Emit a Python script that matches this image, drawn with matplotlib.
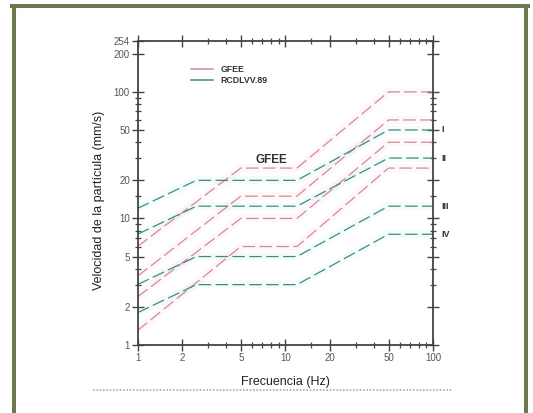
import numpy as np
import matplotlib
matplotlib.use("Agg")
import matplotlib.pyplot as plt
from matplotlib.lines import Line2D
from matplotlib.ticker import NullFormatter
import matplotlib.transforms as mtransforms

plt.rcParams['font.family'] = ['Liberation Sans', 'DejaVu Sans']

# break frequencies (Hz) of each limit curve
freq_gfee = [1, 5, 12, 50, 100]
freq_rcd = [1, 2.5, 12, 50, 100]

# GFEE limits (mm/s)
gfee_1 = [6, 25, 25, 100, 100]
gfee_2 = [3.5, 15, 15, 60, 60]
gfee_3 = [2.4, 10, 10, 40, 40]
gfee_4 = [1.3, 6, 6, 25, 25]

# RCDLVV.89 limits (mm/s), classes I-IV
rcd_1 = [12, 20, 20, 50, 50]
rcd_2 = [7.5, 12.5, 12.5, 30, 30]
rcd_3 = [3, 5, 5, 12.5, 12.5]
rcd_4 = [1.8, 3, 3, 7.5, 7.5]

class_names = ['I', 'II', 'III', 'IV']

x_major = [1, 2, 5, 10, 20, 50, 100]
x_minor = [3, 4, 6, 7, 8, 9, 15, 30, 40, 60, 70, 80, 90]
y_major = [1, 2, 5, 10, 20, 50, 100, 200, 254]
y_minor = [3, 4, 6, 7, 8, 9, 15, 30, 40, 60, 70, 80, 90]

pink = '#d9859f'
teal = '#3f8a86'

fig = plt.figure(figsize=(5.33, 4.13), dpi=100)
ax = fig.add_axes([0.258, 0.1646, 0.5544, 0.737])
ax.set_xscale('log')
ax.set_yscale('log')

dash = (0, (10, 3.5))
for curve in [gfee_1, gfee_2, gfee_3, gfee_4]:
    ax.plot(freq_gfee, curve, color=pink, lw=6, alpha=0.05, solid_capstyle='butt')
    ax.plot(freq_gfee, curve, color=pink, lw=0.9, ls=dash)
for curve in [rcd_1, rcd_2, rcd_3, rcd_4]:
    ax.plot(freq_rcd, curve, color='#5fb8b8', lw=6, alpha=0.05, solid_capstyle='butt')
    ax.plot(freq_rcd, curve, color=teal, lw=0.9, ls=dash)

ax.set_xlim(1, 100)
ax.set_ylim(1, 254)

ax.set_xticks(x_major)
ax.set_xticklabels([str(v) for v in x_major])
ax.set_xticks(x_minor, minor=True)
ax.set_yticks(y_major)
ax.set_yticklabels([str(v) for v in y_major])
ax.set_yticks(y_minor, minor=True)
ax.xaxis.set_minor_formatter(NullFormatter())
ax.yaxis.set_minor_formatter(NullFormatter())

ax.tick_params(which='both', direction='inout', top=True, right=True,
               labeltop=False, labelright=False, colors='#444444',
               labelcolor='#555555', labelsize=7)
ax.tick_params(which='major', length=9, width=1.0, pad=1)
ax.tick_params(which='minor', length=5, width=0.9)
for s in ax.spines.values():
    s.set_color('#444444')
    s.set_linewidth(1.3)

# class labels next to the right axis
trans = mtransforms.blended_transform_factory(ax.transAxes, ax.transData)
for name, curve in zip(class_names, [rcd_1, rcd_2, rcd_3, rcd_4]):
    ax.text(1.028, curve[-1], name, transform=trans, fontsize=6.5,
            fontweight='bold', color='#333333', ha='left', va='center')

ax.text(8.1, 29, 'GFEE', fontsize=8.5, fontweight='bold', color='#333333',
        ha='center', va='center')

handles = [Line2D([], [], color=pink, lw=1.1), Line2D([], [], color=teal, lw=1.1)]
leg = ax.legend(handles, ['GFEE', 'RCDLVV.89'], loc='upper left',
                bbox_to_anchor=(0.165, 0.935), frameon=False, fontsize=6.3,
                handlelength=2.5, handletextpad=0.9, labelspacing=0.3,
                borderpad=0)
for t in leg.get_texts():
    t.set_fontweight('bold')
    t.set_color('#333333')

fig.text((137.5 + 433) / 2 / 533, 1 - 382 / 413, 'Frecuencia (Hz)',
         ha='center', va='center', fontsize=9, color='#222222')
fig.text(98.7 / 533, 0.516, 'Velocidad de la partícula (mm/s)', rotation=90,
         ha='center', va='center', fontsize=9, color='#222222')

# frame and separator
green = '#6b7b4e'
fig.add_artist(Line2D([0.0263, 0.0263], [-0.1, 0.985], color=green, lw=2.9,
                      transform=fig.transFigure))
fig.add_artist(Line2D([0.986, 0.986], [-0.1, 0.985], color=green, lw=2.9,
                      transform=fig.transFigure))
fig.add_artist(Line2D([0.0263 - 0.0037, 0.986 + 0.0037], [0.985, 0.985], color=green,
                      lw=2.9, transform=fig.transFigure))
fig.add_artist(Line2D([0.1745, 0.848], [0.0557, 0.0557], color='#aaaaaa', lw=1.2,
                      ls=(0, (1, 1)), transform=fig.transFigure))

fig.savefig('out.png', dpi=100)
